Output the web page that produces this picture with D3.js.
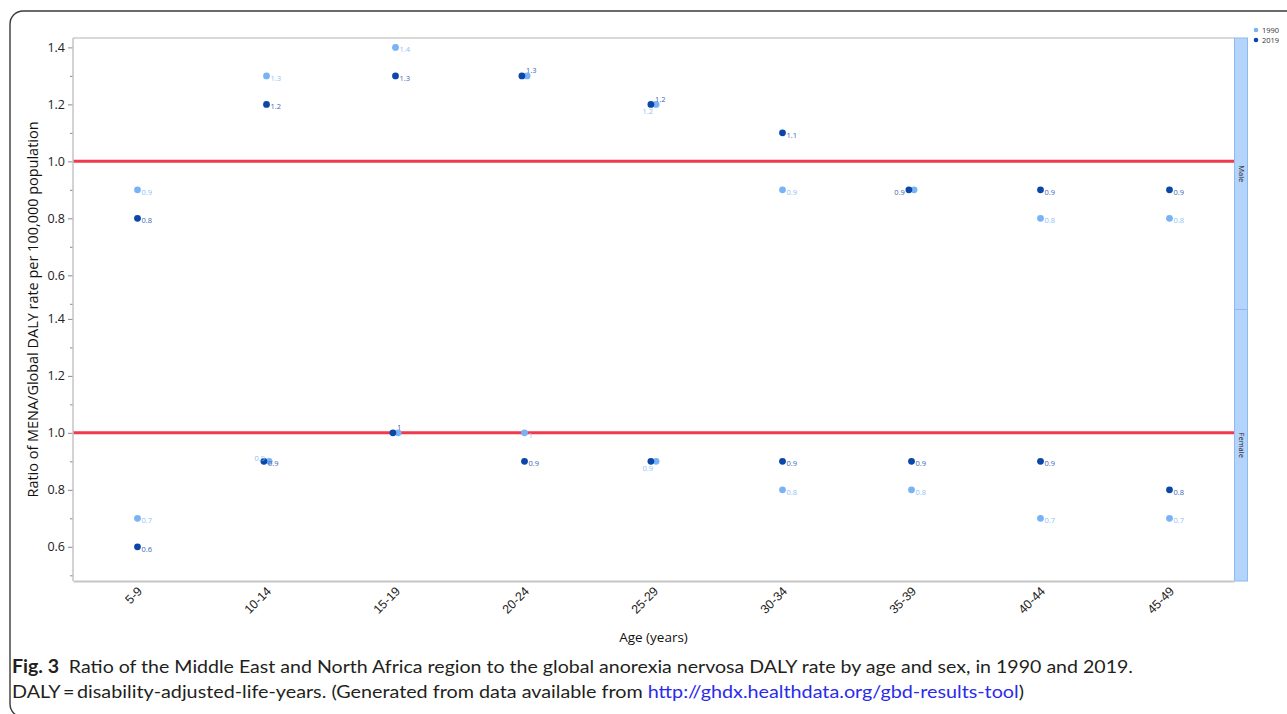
<!DOCTYPE html>
<html>
<head>
<meta charset="utf-8">
<script src="https://cdn.jsdelivr.net/npm/d3@7"></script>
<style>
  body { margin: 0; background: #fff; }
  svg { display: block; font-family: "Open Sans", sans-serif; }
</style>
</head>
<body>
<div id="chart-area"></div>
<script>
/** Data **/
const ageGroups = ['5-9', '10-14', '15-19', '20-24', '25-29', '30-34', '35-39', '40-44', '45-49'];
const years = ['1990', '2019'];
const sexes = ['Male', 'Female'];

const male1990   = [0.9, 1.3, 1.4, 1.3, 1.2, 0.9, 0.9, 0.8, 0.8];
const male2019   = [0.8, 1.2, 1.3, 1.3, 1.2, 1.1, 0.9, 0.9, 0.9];
const female1990 = [0.7, 0.9, 1.0, 1.0, 0.9, 0.8, 0.8, 0.7, 0.7];
const female2019 = [0.6, 0.9, 1.0, 0.9, 0.9, 0.9, 0.9, 0.9, 0.8];

const yMajorTicks = [0.6, 0.8, 1.0, 1.2, 1.4];
const yMinorTicks = [0.5, 0.7, 0.9, 1.1, 1.3];
const refValue = 1.0;

const seriesBySex = {
    Male:   { '1990': male1990,   '2019': male2019 },
    Female: { '1990': female1990, '2019': female2019 }
};

/* label placement where JMP moved / hid overlapping labels */
const labelSpot = {
    'Male|20-24|2019': 'ne',   'Male|20-24|1990': 'none',
    'Male|25-29|2019': 'ne',   'Male|25-29|1990': 'sw',
    'Male|35-39|2019': 'w',    'Male|35-39|1990': 'none',
    'Female|10-14|1990': 'nw',
    'Female|15-19|2019': 'ne', 'Female|15-19|1990': 'none',
    'Female|25-29|1990': 'sw', 'Female|25-29|2019': 'none'
};
const spotOffset = {
    e:  { dx: 4,  dy: 2,    anchor: 'start' },
    ne: { dx: 4,  dy: -5.5, anchor: 'start' },
    sw: { dx: -3, dy: 7,    anchor: 'end' },
    nw: { dx: -4, dy: -3.5, anchor: 'end' },
    w:  { dx: -4, dy: 2,    anchor: 'end' }
};

const colors = {
    '1990': { dot: '#78b3f6', label: '#8fbff3' },
    '2019': { dot: '#0a47a8', label: '#3d66b5' }
};


/** SVG **/
const W = 1287, H = 714;
const plot = { left: 73, right: 1234, top: 38, bottom: 581 };
const panelH = (plot.bottom - plot.top) / 2;

const svg = d3.select('#chart-area')
    .append('svg')
    .attr('width', W)
    .attr('height', H);

/* outer rounded frame */
svg.append('rect')
    .attr('x', 10).attr('y', 11)
    .attr('width', 1320).attr('height', 706)
    .attr('rx', 13)
    .attr('fill', 'none')
    .attr('stroke', '#3a3a3a')
    .attr('stroke-width', 1.4);


/** Scales **/
const x = d3.scalePoint()
    .domain(ageGroups)
    .range([plot.left, plot.right])
    .padding(0.5);

const yDomain = [0.48, 1.433];
const yScales = {};
sexes.forEach((s, i) => {
    const top = plot.top + i * panelH;
    yScales[s] = d3.scaleLinear().domain(yDomain).range([top + panelH, top]);
});


/** Panels **/
sexes.forEach((sex, i) => {
    const y = yScales[sex];
    const top = plot.top + i * panelH;
    const g = svg.append('g').attr('class', 'panel ' + sex);

    /* axis */
    const major = g.append('g')
        .attr('transform', `translate(${plot.left},0)`)
        .call(d3.axisLeft(y).tickValues(yMajorTicks).tickFormat(d3.format('.1f'))
            .tickSizeInner(5).tickSizeOuter(0).tickPadding(3));
    major.select('.domain').remove();
    major.selectAll('line').attr('stroke', '#8a8a8a');
    major.selectAll('text')
        .attr('font-size', 12.5)
        .attr('fill', '#222')
        .attr('font-family', 'Open Sans');

    const minor = g.append('g')
        .attr('transform', `translate(${plot.left},0)`)
        .call(d3.axisLeft(y).tickValues(yMinorTicks).tickFormat('')
            .tickSizeInner(3).tickSizeOuter(0));
    minor.select('.domain').remove();
    minor.selectAll('line').attr('stroke', '#8a8a8a');

    /* reference line */
    g.append('line')
        .attr('x1', plot.left).attr('x2', plot.right)
        .attr('y1', y(refValue)).attr('y2', y(refValue))
        .attr('stroke', '#f0394d')
        .attr('stroke-width', 3);

    /* points */
    const pts = [];
    ageGroups.forEach((age, j) => {
        const v90 = seriesBySex[sex]['1990'][j];
        const v19 = seriesBySex[sex]['2019'][j];
        const same = v90 === v19;
        years.forEach(yr => {
            const v = seriesBySex[sex][yr][j];
            const shift = same ? (yr === '2019' ? -2.6 : 2.6) : 0;
            pts.push({ sex, age, yr, v, cx: x(age) + shift, cy: y(v) });
        });
    });

    g.selectAll('circle.dot')
        .data(pts)
        .enter().append('circle')
        .attr('class', 'dot')
        .attr('cx', d => d.cx)
        .attr('cy', d => d.cy)
        .attr('r', 3.4)
        .attr('fill', d => colors[d.yr].dot);

    g.selectAll('text.val')
        .data(pts.filter(d => labelSpot[`${d.sex}|${d.age}|${d.yr}`] !== 'none'))
        .enter().append('text')
        .attr('class', 'val')
        .each(function(d){
            const o = spotOffset[labelSpot[`${d.sex}|${d.age}|${d.yr}`] || 'e'];
            d3.select(this)
                .attr('x', d.cx + o.dx)
                .attr('y', d.cy + o.dy)
                .attr('text-anchor', o.anchor);
        })
        .attr('dominant-baseline', 'central')
        .attr('font-size', 7.5)
        .attr('fill', d => colors[d.yr].label)
        .text(d => d3.format('~g')(d.v));

    /* strip on the right */
    g.append('rect')
        .attr('x', plot.right + 0.5).attr('y', top)
        .attr('width', 13).attr('height', panelH)
        .attr('fill', '#b4d4fc')
        .attr('stroke', '#8cbaf4')
        .attr('stroke-width', 1);

    g.append('text')
        .attr('transform', `translate(${plot.right + 4.5},${top + panelH / 2}) rotate(90)`)
        .attr('text-anchor', 'middle')
        .attr('font-size', 7.5)
        .attr('fill', '#222')
        .text(sex);
});


/* plot frame lines */
svg.append('line')
    .attr('x1', plot.left).attr('x2', plot.right)
    .attr('y1', plot.top).attr('y2', plot.top)
    .attr('stroke', '#b4b4b4').attr('stroke-width', 1.2);
svg.append('line')
    .attr('x1', plot.left).attr('x2', plot.left)
    .attr('y1', plot.top).attr('y2', plot.bottom)
    .attr('stroke', '#c4c4c4').attr('stroke-width', 1.5);


/** X axis **/
const xAxis = svg.append('g')
    .attr('transform', `translate(0,${plot.bottom})`)
    .call(d3.axisBottom(x).tickSize(0).tickPadding(0));
xAxis.select('.domain').attr('stroke', '#c6c6c6').attr('stroke-width', 2);
xAxis.selectAll('text')
    .attr('font-size', 12.5)
    .attr('fill', '#222')
    .attr('text-anchor', 'end')
    .attr('dy', 0)
    .attr('transform', 'translate(5,11) rotate(-45)');


/** Labels **/
svg.append('text')
    .attr('x', (plot.left + plot.right) / 2)
    .attr('y', 642)
    .attr('text-anchor', 'middle')
    .attr('font-size', 13.5)
    .attr('fill', '#111')
    .text('Age (years)');

svg.append('text')
    .attr('transform', `translate(38,${(plot.top + plot.bottom) / 2}) rotate(-90)`)
    .attr('text-anchor', 'middle')
    .attr('font-size', 14)
    .attr('fill', '#111')
    .attr('textLength', 376)
    .attr('lengthAdjust', 'spacingAndGlyphs')
    .text('Ratio of MENA/Global DALY rate per 100,000 population');


/** Legend **/
const legend = svg.append('g').attr('transform', 'translate(1256,30)');
years.forEach((yr, i) => {
    legend.append('circle')
        .attr('cx', 0).attr('cy', i * 10)
        .attr('r', 2.3)
        .attr('fill', colors[yr].dot);
    legend.append('text')
        .attr('x', 6).attr('y', i * 10)
        .attr('dominant-baseline', 'central')
        .attr('font-size', 7.5)
        .attr('fill', '#333')
        .text(yr);
});


/** Caption **/
const cap1 = svg.append('text')
    .attr('x', 12).attr('y', 673)
    .attr('font-family', 'Lato')
    .attr('font-size', 18)
    .attr('fill', '#231f20')
    .attr('textLength', 1121)
    .attr('lengthAdjust', 'spacingAndGlyphs');
cap1.append('tspan').attr('font-weight', 'bold').text('Fig. 3');
cap1.append('tspan').text('\u2002Ratio of the Middle East and North Africa region to the global anorexia nervosa DALY rate by age and sex, in 1990 and 2019.');

const cap2 = svg.append('text')
    .attr('x', 12).attr('y', 698)
    .attr('font-family', 'Lato')
    .attr('font-size', 18)
    .attr('fill', '#231f20')
    .attr('textLength', 1012)
    .attr('lengthAdjust', 'spacingAndGlyphs');
cap2.append('tspan').text('DALY\u2009=\u2009disability-adjusted-life-years. (Generated from data available from ');
cap2.append('tspan').attr('fill', '#2b2bea').text('http://ghdx.healthdata.org/gbd-results-tool');
cap2.append('tspan').text(')');
</script>
</body>
</html>
